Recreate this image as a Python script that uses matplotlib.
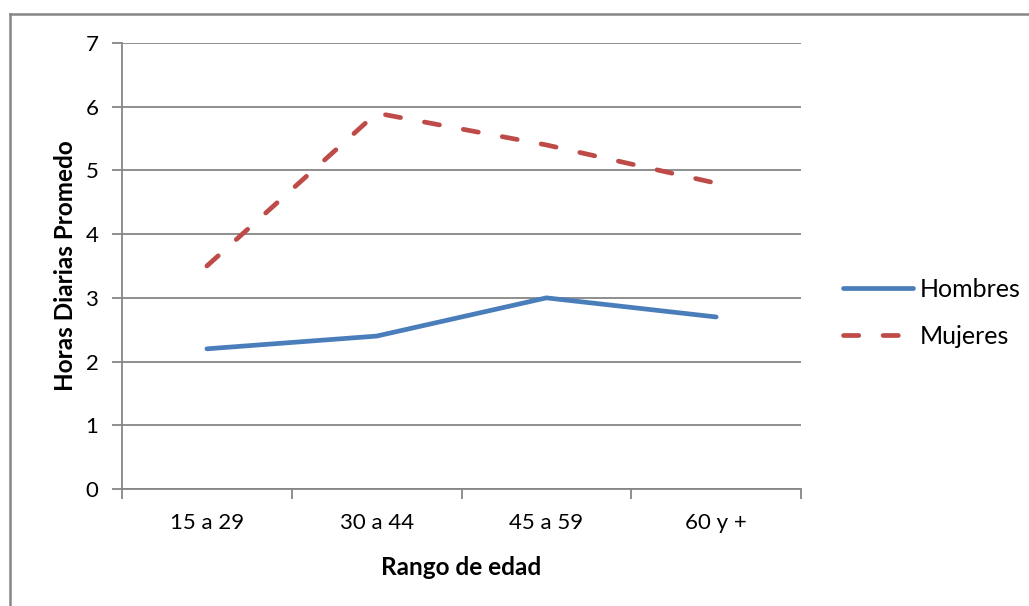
import matplotlib
matplotlib.use("Agg")
import matplotlib.pyplot as plt
from matplotlib.lines import Line2D

plt.rcParams['font.family'] = ['Lato', 'DejaVu Sans']
plt.rcParams['lines.scale_dashes'] = False

# datos
categorias = ["15 a 29", "30 a 44", "45 a 59", "60 y +"]
hombres = [2.2, 2.4, 3.0, 2.7]
mujeres = [3.5, 5.9, 5.4, 4.8]

gris = '#868686'
azul = '#4A7EBB'
rojo = '#BE4B48'
fs = 16

fig = plt.figure(figsize=(10.29, 6.06), dpi=100)
ax = fig.add_axes([122 / 1029, 1 - 489 / 606, (801 - 122) / 1029, (489 - 43) / 606])

x = list(range(len(categorias)))
ax.plot(x, hombres, color=azul, lw=3.4, solid_capstyle='round', label='Hombres')
ax.plot(x, mujeres, color=rojo, lw=3.4, dashes=(11, 17.5), dash_capstyle='round', label='Mujeres')

ax.set_xlim(-0.5, len(categorias) - 0.5)
ax.set_ylim(0, 7)
ax.set_yticks(range(0, 8))
ax.yaxis.grid(True, color=gris, lw=1.3)
ax.set_axisbelow(True)

# ticks del eje x entre categorias
ax.set_xticks([i - 0.5 for i in range(len(categorias) + 1)])
ax.set_xticklabels([])
ax.set_xticks(x, minor=True)
ax.set_xticklabels(categorias, minor=True)
ax.tick_params(axis='x', which='minor', length=0, pad=17, labelsize=fs)
ax.tick_params(axis='x', which='major', length=7, width=1.3, color=gris, direction='out')
ax.tick_params(axis='y', length=7, width=1.3, color=gris, direction='out', pad=10, labelsize=fs)

for s in ['top', 'right']:
    ax.spines[s].set_visible(False)
for s in ['left', 'bottom']:
    ax.spines[s].set_color(gris)
    ax.spines[s].set_linewidth(1.3)

ax.set_xlabel("Rango de edad", fontsize=17.5, fontweight='bold', labelpad=17)
ax.set_ylabel("Horas Diarias Promedo", fontsize=17.5, fontweight='bold', labelpad=6)

ax.legend(loc='center left', bbox_to_anchor=(843 / 1029, 1 - 313 / 606),
          bbox_transform=fig.transFigure, frameon=False, fontsize=18,
          handlelength=2.8, handletextpad=0.25, labelspacing=0.95,
          borderpad=0, borderaxespad=0)

# marco exterior
fig.add_artist(Line2D([10 / 1029, 10 / 1029], [0, 1 - 14 / 606], color=gris, lw=1.8))
fig.add_artist(Line2D([10 / 1029, 1], [1 - 14 / 606, 1 - 14 / 606], color=gris, lw=1.8))

fig.savefig("out.png", dpi=100, facecolor='white')
